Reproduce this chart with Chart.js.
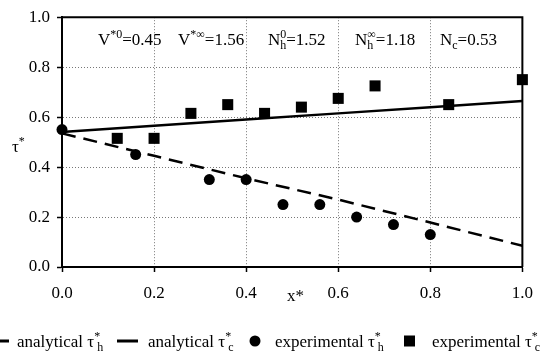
<!DOCTYPE html>
<html>
<head>
<meta charset="utf-8">
<script src="https://cdn.jsdelivr.net/npm/chart.js@4"></script>
<style>
  html, body { margin: 0; padding: 0; background: #fff; }
  #wrap { width: 544px; height: 354px; }
</style>
</head>
<body>
<div id="wrap"><canvas id="myChart" width="544" height="354"></canvas></div>
<script>
// values
const expHx = [0, 0.16, 0.32, 0.40, 0.48, 0.56, 0.64, 0.72, 0.80];
const expHy = [0.55, 0.45, 0.35, 0.35, 0.25, 0.25, 0.20, 0.17, 0.13];
const expCx = [0.12, 0.20, 0.28, 0.36, 0.44, 0.52, 0.60, 0.68, 0.84, 1.00];
const expCy = [0.515, 0.515, 0.615, 0.65, 0.615, 0.64, 0.675, 0.725, 0.65, 0.75];
const anaX = [0, 0.2, 0.4, 0.6, 0.8, 1.0];
const anaH = [0.535, 0.445, 0.355, 0.27, 0.178, 0.085];
const anaC = [0.54, 0.565, 0.59, 0.615, 0.64, 0.665];
const xTicks = [0, 0.2, 0.4, 0.6, 0.8, 1.0];
const yTicks = [0, 0.2, 0.4, 0.6, 0.8, 1.0];

const FONT = '"Liberation Serif", "Times New Roman", serif';

function pts(xs, ys) {
    return xs.map((x, i) => ({ x: x, y: ys[i] }));
}

// draws base, then sup / sub stacked, then tail
function rich(ctx, x, y, base, sup, sub, tail, subDx) {
    ctx.font = '17px ' + FONT;
    ctx.fillText(base, x, y);
    x += ctx.measureText(base).width;
    ctx.font = '12px ' + FONT;
    let w = 0;
    if (sup) { ctx.fillText(sup, x, y - 7); w = ctx.measureText(sup).width; }
    if (sub) {
        const dx = subDx || 0;
        ctx.fillText(sub, x + dx, y + 4);
        w = Math.max(w, dx + ctx.measureText(sub).width);
    }
    x += w;
    if (tail) {
        ctx.font = '17px ' + FONT;
        ctx.fillText(tail, x, y);
    }
}

const extras = {
    id: 'extras',
    afterDraw(chart) {
        const ctx = chart.ctx;
        const a = chart.chartArea;
        ctx.save();
        // frame top/right
        ctx.strokeStyle = '#000';
        ctx.lineWidth = 2;
        ctx.beginPath();
        ctx.moveTo(a.left, a.top);
        ctx.lineTo(a.right, a.top);
        ctx.lineTo(a.right, a.bottom);
        ctx.stroke();

        ctx.fillStyle = '#000';
        ctx.textBaseline = 'alphabetic';
        ctx.textAlign = 'left';

        // parameter labels
        rich(ctx, 98, 45, 'V', '*0', null, '=0.45');
        rich(ctx, 178, 45, 'V', '*\u221E', null, '=1.56');
        rich(ctx, 268, 45, 'N', '0', 'h', '=1.52');
        rich(ctx, 355, 45, 'N', '\u221E', 'h', '=1.18');
        rich(ctx, 440, 45, 'N', null, 'c', '=0.53');

        // axis titles
        rich(ctx, 12, 152, '\u03C4', '*', null, null);
        ctx.font = '17px ' + FONT;
        ctx.fillText('x*', 287, 301);

        // legend
        const ly = 341;
        ctx.strokeStyle = '#000';
        ctx.lineWidth = 3;
        ctx.beginPath();
        ctx.moveTo(0, ly); ctx.lineTo(9, ly);
        ctx.moveTo(117, ly); ctx.lineTo(138, ly);
        ctx.stroke();
        rich(ctx, 17, 347, 'analytical \u03C4', '*', 'h', null, 3);
        rich(ctx, 148, 347, 'analytical \u03C4', '*', 'c', null, 3);
        ctx.beginPath();
        ctx.arc(255, ly, 5.5, 0, Math.PI * 2);
        ctx.fill();
        rich(ctx, 275, 347, 'experimental \u03C4', '*', 'h', null, 3);
        ctx.fillRect(404, ly - 5.5, 11, 11);
        rich(ctx, 432, 347, 'experimental \u03C4', '*', 'c', null, 3);
        ctx.restore();
    }
};

const gridOpts = {
    color: '#777',
    lineWidth: 1,
    tickColor: '#000',
    tickWidth: 1.5,
    tickBorderDash: [],
    tickLength: 5
};
const borderOpts = { display: true, color: '#000', width: 2, dash: [1, 2] };

const ctx = document.getElementById('myChart').getContext('2d');
const chart = new Chart(ctx, {
    type: 'scatter',
    data: {
        datasets: [{
            label: 'experimental h',
            data: pts(expHx, expHy),
            pointStyle: 'circle',
            pointRadius: 5.5,
            backgroundColor: '#000',
            borderColor: '#000',
            borderWidth: 0,
            clip: false
        }, {
            label: 'experimental c',
            data: pts(expCx, expCy),
            pointStyle: 'rect',
            pointRadius: 7.8,
            backgroundColor: '#000',
            borderColor: '#000',
            borderWidth: 0,
            clip: false
        }, {
            label: 'analytical h',
            data: pts(anaX, anaH),
            showLine: true,
            pointRadius: 0,
            borderColor: '#000',
            borderWidth: 2.5,
            borderDash: [14, 8],
            clip: false
        }, {
            label: 'analytical c',
            data: pts(anaX, anaC),
            showLine: true,
            pointRadius: 0,
            borderColor: '#000',
            borderWidth: 2.5,
            clip: false
        }]
    },
    options: {
        responsive: false,
        animation: false,
        layout: { padding: { left: 0, top: 15, right: 12, bottom: 0 } },
        plugins: { legend: { display: false }, tooltip: { enabled: false } },
        scales: {
            x: {
                type: 'linear',
                min: 0, max: 1,
                afterBuildTicks: s => { s.ticks = xTicks.map(v => ({ value: v })); },
                afterFit: s => { s.height = 87; },
                grid: gridOpts,
                border: borderOpts,
                ticks: {
                    color: '#000',
                    padding: 11,
                    font: { family: FONT, size: 17 },
                    maxRotation: 0,
                    callback: v => v.toFixed(1)
                }
            },
            y: {
                type: 'linear',
                min: 0, max: 1,
                afterBuildTicks: s => { s.ticks = yTicks.map(v => ({ value: v })); },
                afterFit: s => { s.width = 62; },
                grid: gridOpts,
                border: borderOpts,
                ticks: {
                    color: '#000',
                    padding: 7,
                    font: { family: FONT, size: 17 },
                    callback: v => v.toFixed(1)
                }
            }
        }
    },
    plugins: [extras]
});
</script>
</body>
</html>
